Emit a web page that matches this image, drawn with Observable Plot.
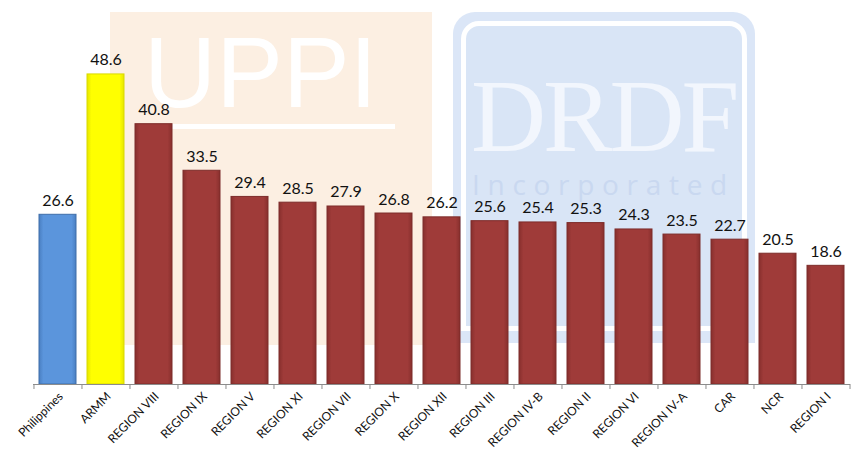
<!DOCTYPE html>
<html>
<head>
<meta charset="utf-8">
<script src="https://cdn.jsdelivr.net/npm/d3@7"></script>
<script src="https://cdn.jsdelivr.net/npm/@observablehq/plot@0.6"></script>
<style>
  html, body { margin: 0; padding: 0; background: #fff; }
  #wrap { position: relative; width: 851px; height: 452px; overflow: hidden; }
  #wm { position: absolute; left: 0; top: 0; width: 851px; height: 452px; }
  #chart { position: absolute; left: 0; top: 0; }
  .uppi { position: absolute; left: 110px; top: 12px; width: 322px; height: 333px; background: #fcefe2; }
  .uppi .t { position: absolute; left: 34px; top: 10px; font: 100px "Liberation Sans", sans-serif; color: #fff; line-height: 1; }
  .uppi .u { position: absolute; left: 57px; top: 112px; width: 228px; height: 5px; background: #fff; }
  .drdf { position: absolute; left: 453px; top: 12px; width: 302px; height: 331px; background: #dbe6f7; border-radius: 22px 22px 0 0; }
  .drdf .in { position: absolute; left: 8px; top: 9px; right: 8px; bottom: 12px; border: 5px solid #fff; border-radius: 18px 18px 0 0; background: #d9e5f6; }
  .drdf .t { position: absolute; left: 18px; top: 42px; font: 104px "Liberation Serif", serif; color: #f2f6fd; line-height: 1.2; letter-spacing: -3px; }
  .drdf .s { position: absolute; left: 19px; top: 154px; font: 28px "Open Sans", sans-serif; color: #c9d8f0; letter-spacing: 7.7px; line-height: 1.3; }
</style>
</head>
<body>
<div id="wrap">
  <div id="wm">
    <div class="uppi"><div class="t">UPPI</div><div class="u"></div></div>
    <div class="drdf"><div class="in"></div><div class="t">DRDF</div><div class="s">Incorporated</div></div>
  </div>
  <div id="chart"></div>
</div>
<script>
const categories = ["Philippines","ARMM","REGION VIII","REGION IX","REGION V","REGION XI","REGION VII","REGION X","REGION XII","REGION III","REGION IV-B","REGION II","REGION VI","REGION IV-A","CAR","NCR","REGION I"];
const values = [26.6,48.6,40.8,33.5,29.4,28.5,27.9,26.8,26.2,25.6,25.4,25.3,24.3,23.5,22.7,20.5,18.6];
const groups = ["nation","armm","region","region","region","region","region","region","region","region","region","region","region","region","region","region","region"];

const data = categories.map((c, i) => ({cat: c, value: values[i], group: groups[i]}));

const W = 851, H = 452, ML = 33, MR = 1, MT = 65, MB = 68;
const step = (W - ML - MR) / categories.length;
const pad = 0.23;
const font = "Lato, 'Open Sans', sans-serif";

const plot = Plot.plot({
  width: W, height: H,
  marginLeft: ML, marginRight: MR, marginTop: MT, marginBottom: MB,
  style: {background: "transparent", fontFamily: font},
  x: {domain: categories, paddingInner: pad, paddingOuter: pad / 2, axis: null, label: null},
  y: {domain: [0, 50], axis: null, label: null},
  marks: [
    Plot.barY(data.filter(d => d.group === "nation"), {x: "cat", y: "value", fill: "url(#gBlue)", stroke: "#3f6eaa", strokeWidth: 1}),
    Plot.barY(data.filter(d => d.group === "armm"), {x: "cat", y: "value", fill: "url(#gYellow)", stroke: "#d9d900", strokeWidth: 1}),
    Plot.barY(data.filter(d => d.group === "region"), {x: "cat", y: "value", fill: "url(#gRed)", stroke: "#7d2c2a", strokeWidth: 1}),
    Plot.ruleY([0], {stroke: "#8c8c8c", strokeWidth: 1}),
    Plot.axisX({ticks: categories, tickSize: 5, tickFormat: () => "", dx: -step / 2, stroke: "#8c8c8c", label: null}),
    Plot.axisX({ticks: categories.slice(-1), tickSize: 5, tickFormat: () => "", dx: step / 2, stroke: "#8c8c8c", label: null}),
    Plot.axisX({ticks: categories, tickSize: 0, tickPadding: 10, tickRotate: -45, fontSize: 12, fill: "#111", dx: 3, label: null}),
    Plot.text(data, {x: "cat", y: "value", text: d => d.value.toFixed(1), dy: -9, lineAnchor: "bottom", fontSize: 16, fill: "#111"})
  ]
});

const svg = d3.select(plot);
const defs = svg.insert("defs", ":first-child");
function grad(id, edge, mid) {
  const g = defs.append("linearGradient").attr("id", id).attr("x1", "0").attr("x2", "1").attr("y1", "0").attr("y2", "0");
  g.append("stop").attr("offset", "0").attr("stop-color", edge);
  g.append("stop").attr("offset", "0.12").attr("stop-color", mid);
  g.append("stop").attr("offset", "0.88").attr("stop-color", mid);
  g.append("stop").attr("offset", "1").attr("stop-color", edge);
}
grad("gBlue", "#4a7fc2", "#5b95dc");
grad("gYellow", "#e6e600", "#ffff00");
grad("gRed", "#882f2d", "#9f3b39");

document.getElementById("chart").appendChild(plot);
</script>
</body>
</html>
